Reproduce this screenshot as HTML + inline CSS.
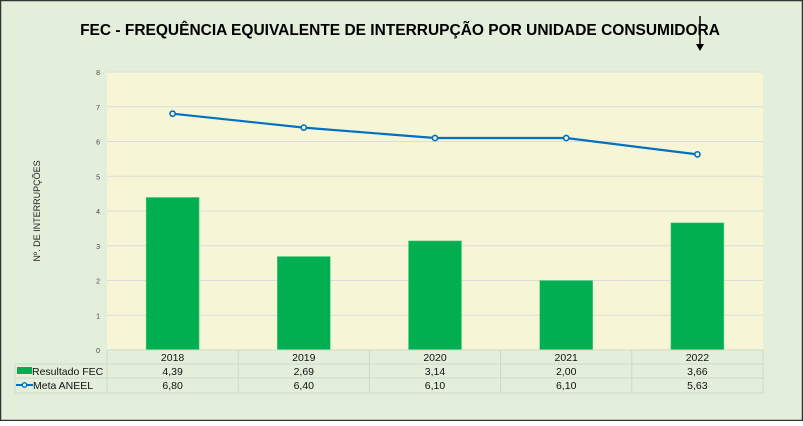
<!DOCTYPE html>
<html><head><meta charset="utf-8"><style>
body{margin:0;width:803px;height:421px;overflow:hidden;background:#fff;font-family:"Liberation Sans",sans-serif}
</style></head><body>
<svg width="803" height="421" id="svg" xmlns="http://www.w3.org/2000/svg" font-family="Liberation Sans, sans-serif">
<rect x="0.5" y="0.5" width="802" height="420" fill="#e3efdb" stroke="#333" stroke-width="1.5"/>
<text x="400" y="35" text-anchor="middle" font-size="15.5" font-weight="bold" fill="#000">FEC - FREQUÊNCIA EQUIVALENTE DE INTERRUPÇÃO POR UNIDADE CONSUMIDORA</text>
<g><line x1="700" y1="16" x2="700" y2="45" stroke="#000" stroke-width="1.5"/><path d="M696,44 L704,44 L700,51 Z" fill="#000"/></g>
<rect x="107" y="72" width="656" height="278" fill="#f6f6d6"/>
<text transform="translate(40,211) rotate(-90)" text-anchor="middle" font-size="9" fill="#222">Nº. DE INTERRUPÇÕES</text>
<g id="grid"></g><g id="bars"></g><g id="line"></g><g id="table"></g>
</svg>
<script>
const categories=["2018","2019","2020","2021","2022"];
const resultado=[4.39,2.69,3.14,2.00,3.66];
const meta=[6.80,6.40,6.10,6.10,5.63];
const yTicks=[0,1,2,3,4,5,6,7,8];
const NS="http://www.w3.org/2000/svg";
const X0=107,X1=763,Y0=350,Y1=72,YMAX=8;
const bw=(X1-X0)/categories.length;
const y=v=>Y0-(v/YMAX)*(Y0-Y1);
const xc=i=>X0+bw*(i+0.5);
function mk(tag,attrs,parent,txt){const e=document.createElementNS(NS,tag);for(const k in attrs)e.setAttribute(k,attrs[k]);if(txt!==undefined)e.textContent=txt;document.getElementById(parent).appendChild(e);return e;}
yTicks.forEach(t=>{
 const l=mk('line',{x1:X0,x2:X1,y1:y(t),y2:y(t),stroke:'#dcdcdc','stroke-width':1},'grid');
 
 
 const tx=mk('text',{x:X0-7,y:y(t)+3,'text-anchor':'end','font-size':7,fill:'#444'},'grid',String(t));
 
 
});
resultado.forEach((v,i)=>{
 const r=mk('rect',{x:xc(i)-26.5,y:y(v),width:53,height:Y0-y(v),fill:'#00b050',stroke:'#5fd08a','stroke-width':0.5},'bars');
 
 
});
const pl=mk('polyline',{points:meta.map((v,i)=>xc(i)+','+y(v)).join(' '),fill:'none',stroke:'#0070c0','stroke-width':2.2},'line');


meta.forEach((v,i)=>{
 const c=mk('circle',{cx:xc(i),cy:y(v),r:2.6,fill:'#f6f6d6',stroke:'#0070c0','stroke-width':1.6},'line');
 
 
});
// table
const rows=[350,364,378,393];
const tc='#cfd8c8';
[[X0,X1,rows[0]],[15,X1,rows[1]],[15,X1,rows[2]],[15,X1,rows[3]]].forEach(a=>{
 const l=mk('line',{x1:a[0],x2:a[1],y1:a[2],y2:a[2],stroke:tc,'stroke-width':1},'table');
 
 
});
for(let i=0;i<=categories.length;i++){
 const l=mk('line',{x1:X0+bw*i,x2:X0+bw*i,y1:rows[0],y2:rows[3],stroke:tc,'stroke-width':1},'table');
 
 
}
const l0=mk('line',{x1:15,x2:15,y1:rows[1],y2:rows[3],stroke:tc,'stroke-width':1},'table');


const fmt=v=>v.toFixed(2).replace('.',',');
categories.forEach((c,i)=>{
 const t=mk('text',{x:xc(i),y:361,'text-anchor':'middle','font-size':10.5,fill:'#111'},'table',c);
 
 
 const a=mk('text',{x:xc(i),y:375,'text-anchor':'middle','font-size':10.5,fill:'#111'},'table',fmt(resultado[i]));
 
 
 const b=mk('text',{x:xc(i),y:389,'text-anchor':'middle','font-size':10.5,fill:'#111'},'table',fmt(meta[i]));
 
 
});
const k1=mk('rect',{x:17,y:367,width:15,height:7,fill:'#00b050'},'table');


const t1=mk('text',{x:32,y:375,'font-size':10.5,fill:'#111'},'table','Resultado FEC');


const k2=mk('line',{x1:16,x2:33,y1:385,y2:385,stroke:'#0070c0','stroke-width':2},'table');


const k3=mk('circle',{cx:24.5,cy:385,r:2.2,fill:'#fff',stroke:'#0070c0','stroke-width':1.4},'table');


const t2=mk('text',{x:33,y:389,'font-size':10.5,fill:'#111'},'table','Meta ANEEL');


</script>
</body></html>
